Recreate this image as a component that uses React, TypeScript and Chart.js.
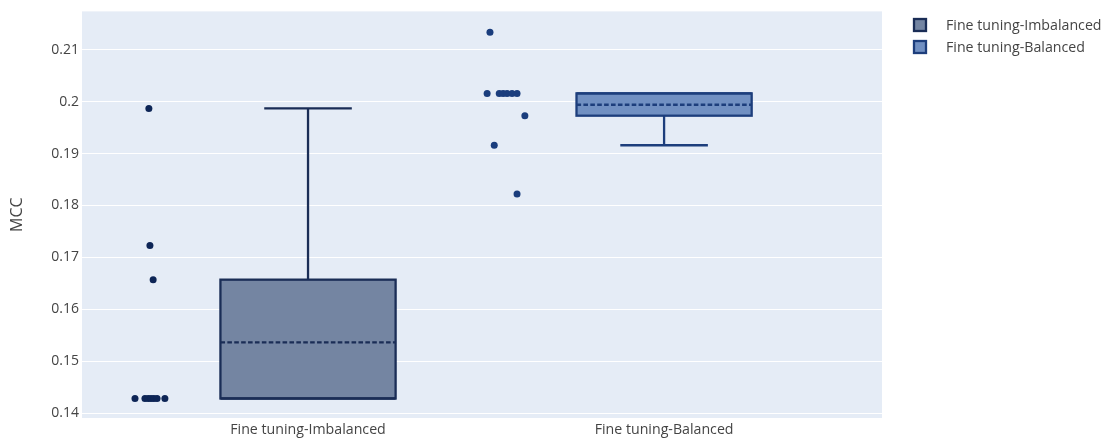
import React, { useEffect, useRef } from "react";
import { Chart, registerables } from "chart.js";

Chart.register(...registerables);

// ---------- data ----------
const categories = ["Fine tuning-Imbalanced", "Fine tuning-Balanced"];
const seriesNames = ["Fine tuning-Imbalanced", "Fine tuning-Balanced"];

const imbalancedValues = [0.1987, 0.1723, 0.1657, 0.1428, 0.1428, 0.1428, 0.1428, 0.1428, 0.1428, 0.1428];
const imbalancedJitter = [-0.447, -0.444, -0.435, -0.486, -0.458, -0.449, -0.441, -0.433, -0.424, -0.402];

const balancedValues = [0.2134, 0.2016, 0.2016, 0.2016, 0.2016, 0.2016, 0.2016, 0.1973, 0.1916, 0.1822];
const balancedJitter = [-0.489, -0.497, -0.463, -0.452, -0.441, -0.427, -0.413, -0.391, -0.477, -0.413];

const yTicks = [0.14, 0.15, 0.16, 0.17, 0.18, 0.19, 0.2, 0.21];
const yTitle = "MCC";

// ---------- styles ----------
const FONT = "'Open Sans', 'DejaVu Sans', sans-serif";
const TEXT = "#444444";
const PLOT_BG = "#E5ECF6";
const LINE_COLORS = ["#1a2d56", "#1d3e7c"];
const FILL_COLORS = ["#7485a2", "#7190c2"];
const POINT_COLORS = ["#0d2556", "#1a3d7d"];
const BOX_HALF = 0.246;
const LW = 2.3;

function median(a: number[]): number {
  const n = a.length;
  if (n === 0) return NaN;
  const m = Math.floor(n / 2);
  return n % 2 ? a[m] : (a[m - 1] + a[m]) / 2;
}

function boxStats(values: number[]) {
  const s = [...values].sort((a, b) => a - b);
  const n = s.length;
  const half = Math.floor(n / 2);
  const lower = s.slice(0, half);
  const upper = s.slice(n % 2 ? half + 1 : half);
  const q1 = median(lower);
  const q3 = median(upper);
  const med = median(s);
  const mean = s.reduce((p, c) => p + c, 0) / n;
  const iqr = q3 - q1;
  const lo = s.filter((v) => v >= q1 - 1.5 * iqr)[0];
  const hiArr = s.filter((v) => v <= q3 + 1.5 * iqr);
  const hi = hiArr[hiArr.length - 1];
  return { q1, q3, med, mean, lo: Math.min(lo, q1), hi: Math.max(hi, q3) };
}

const groups = [imbalancedValues, balancedValues];

const bgPlugin = {
  id: "plotBg",
  beforeDraw(chart: any) {
    const { ctx, chartArea } = chart;
    ctx.save();
    ctx.fillStyle = PLOT_BG;
    ctx.fillRect(chartArea.left, chartArea.top, chartArea.right - chartArea.left, chartArea.bottom - chartArea.top);
    ctx.restore();
  },
};

const boxPlugin = {
  id: "boxes",
  beforeDatasetsDraw(chart: any) {
    const { ctx, chartArea, scales } = chart;
    const x = scales.x;
    const y = scales.y;
    ctx.save();
    ctx.beginPath();
    ctx.rect(chartArea.left, chartArea.top, chartArea.right - chartArea.left, chartArea.bottom - chartArea.top);
    ctx.clip();
    groups.forEach((vals, i) => {
      const st = boxStats(vals);
      const xl = x.getPixelForValue(i - BOX_HALF);
      const xr = x.getPixelForValue(i + BOX_HALF);
      const xc = x.getPixelForValue(i);
      const cl = x.getPixelForValue(i - BOX_HALF / 2);
      const cr = x.getPixelForValue(i + BOX_HALF / 2);
      const yq1 = y.getPixelForValue(st.q1);
      const yq3 = y.getPixelForValue(st.q3);
      const ylo = y.getPixelForValue(st.lo);
      const yhi = y.getPixelForValue(st.hi);
      const ymed = y.getPixelForValue(st.med);
      const ymean = y.getPixelForValue(st.mean);

      ctx.fillStyle = FILL_COLORS[i];
      ctx.fillRect(xl, yq3, xr - xl, yq1 - yq3);

      ctx.strokeStyle = LINE_COLORS[i];
      ctx.lineWidth = LW;
      ctx.setLineDash([]);
      ctx.beginPath();
      // whiskers
      ctx.moveTo(xc, yq3);
      ctx.lineTo(xc, yhi);
      ctx.moveTo(cl, yhi);
      ctx.lineTo(cr, yhi);
      ctx.moveTo(xc, yq1);
      ctx.lineTo(xc, ylo);
      ctx.moveTo(cl, ylo);
      ctx.lineTo(cr, ylo);
      // median
      ctx.moveTo(xl, ymed);
      ctx.lineTo(xr, ymed);
      ctx.stroke();
      ctx.strokeRect(xl, yq3, xr - xl, yq1 - yq3);

      // mean dashed
      ctx.setLineDash([4.6, 2.3]);
      ctx.beginPath();
      ctx.moveTo(xl, ymean);
      ctx.lineTo(xr, ymean);
      ctx.stroke();
      ctx.setLineDash([]);
    });
    ctx.restore();
  },
};

const legendPlugin = {
  id: "sideLegend",
  afterDraw(chart: any) {
    const { ctx } = chart;
    ctx.save();
    seriesNames.forEach((name, i) => {
      const cy = 25 + i * 22;
      ctx.fillStyle = FILL_COLORS[i];
      ctx.fillRect(914, cy - 6, 12, 12);
      ctx.strokeStyle = LINE_COLORS[i];
      ctx.lineWidth = LW;
      ctx.strokeRect(914, cy - 6, 12, 12);
      ctx.fillStyle = TEXT;
      ctx.font = `14.2px ${FONT}`;
      ctx.textAlign = "left";
      ctx.textBaseline = "middle";
      ctx.fillText(name, 946, cy + 1);
    });
    ctx.restore();
  },
};

export default function App() {
  const ref = useRef<HTMLCanvasElement | null>(null);

  useEffect(() => {
    if (!ref.current) return;
    const datasets = groups.map((vals, i) => {
      const jit = i === 0 ? imbalancedJitter : balancedJitter;
      return {
        label: seriesNames[i],
        data: vals.map((v, j) => ({ x: i + jit[j], y: v })),
        backgroundColor: POINT_COLORS[i],
        borderColor: POINT_COLORS[i],
        pointRadius: 3.5,
        pointBorderWidth: 0,
        showLine: false,
      };
    });

    const chart = new Chart(ref.current, {
      type: "scatter",
      data: { datasets },
      options: {
        animation: false,
        responsive: false,
        devicePixelRatio: 1,
        layout: { padding: { top: 8, right: 227, bottom: 0, left: 0 } },
        plugins: {
          legend: { display: false },
          tooltip: { enabled: false },
        },
        scales: {
          x: {
            type: "linear",
            min: -0.6348,
            max: 1.612,
            afterBuildTicks: (s: any) => {
              s.ticks = categories.map((_, i) => ({ value: i }));
            },
            afterFit: (s: any) => {
              s.height = 21;
            },
            grid: { display: false, drawTicks: false },
            border: { display: false },
            ticks: {
              padding: 3,
              autoSkip: false,
              maxRotation: 0,
              color: TEXT,
              font: { family: FONT, size: 14.2 },
              callback: (v: any) => categories[Math.round(Number(v))] ?? "",
            },
          },
          y: {
            min: 0.13904,
            max: 0.2174,
            afterBuildTicks: (s: any) => {
              s.ticks = yTicks.map((v) => ({ value: v }));
            },
            afterFit: (s: any) => {
              s.width = 82;
            },
            grid: { color: "#ffffff", lineWidth: 1, drawTicks: false },
            border: { display: false },
            ticks: {
              padding: 3,
              color: TEXT,
              font: { family: FONT, size: 14 },
              callback: (v: any) => String(Number(Number(v).toFixed(2))),
            },
            title: {
              display: true,
              text: yTitle,
              color: TEXT,
              font: { family: FONT, size: 16 },
              padding: { top: 8, bottom: 0 },
            },
          },
        },
      },
      plugins: [bgPlugin, boxPlugin, legendPlugin],
    } as any);
    return () => chart.destroy();
  }, []);

  return (
    <div style={{ position: "absolute", left: 0, top: 0, width: 1109, height: 439, background: "#ffffff" }}>
      <canvas ref={ref} width={1109} height={439} style={{ display: "block" }} />
    </div>
  );
}
